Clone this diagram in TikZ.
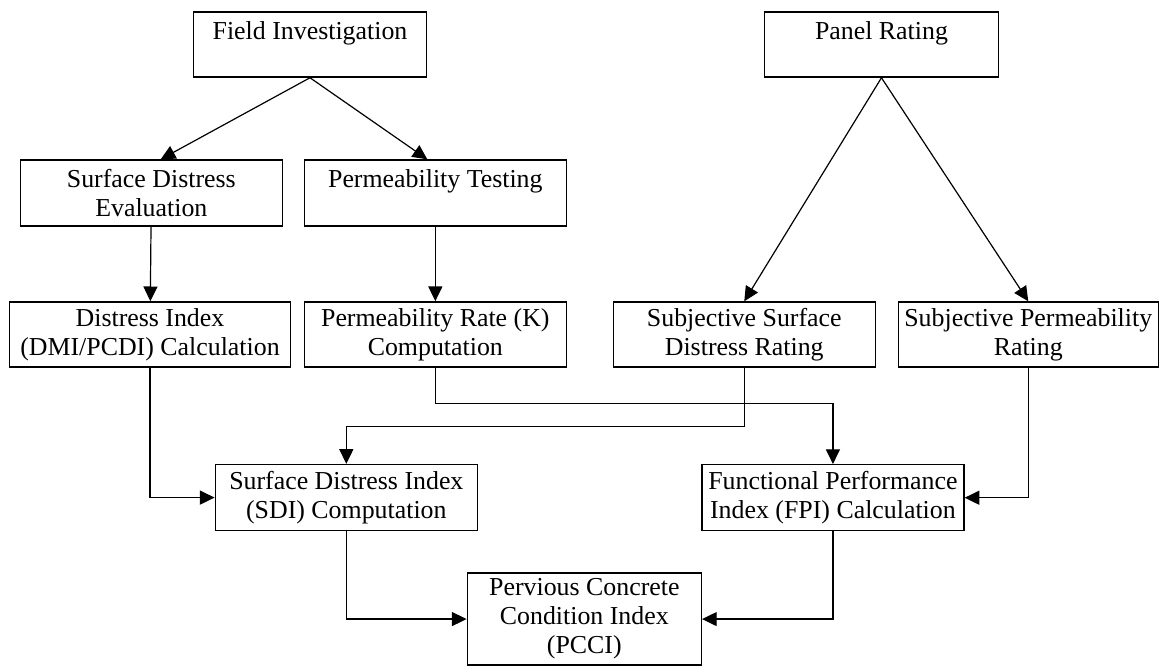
\documentclass[tikz,border=0pt]{standalone}
\usepackage{fontspec}
\setmainfont{Liberation Serif}
\usetikzlibrary{arrows.meta}
\tikzstyle{stage} = [rectangle, minimum width=196.5pt, minimum height=49.5pt, inner sep=2pt, align=center, draw=black, line width=1.1pt, font=\fontsize{19.4}{21.75}\selectfont]
\tikzstyle{arrow} = [line width=0.9pt,-{Triangle[length=11pt,width=10.5pt]}]

\begin{document}
\begin{tikzpicture}[node distance=106pt]
      \useasboundingbox (-232.5pt,33.4pt) rectangle (636.75pt,-466.1pt);
      \node (field) [stage, minimum width=175pt, minimum height=48.75pt] {Field Investigation\\ \mbox{}};
      \node (sde) [stage, below of=field, xshift=-119pt, yshift=-5.4pt] {Surface Distress\\ Evaluation};
      \draw [arrow] (field.south) -- ([xshift=7pt]sde.north);
      \node (ptest) [stage, below of=field, xshift=94pt, yshift=-5.4pt] {Permeability Testing\\ \mbox{}};
      \draw [arrow] (field.south) -- ([xshift=-6pt]ptest.north);
      \node (dic) [stage, below of=sde, xshift=-1pt, minimum width=210.75pt, minimum height=48.75pt] {Distress Index\\ (DMI/PCDI) Calculation};
      \draw [arrow] (sde) -- (dic);
      \node (prc) [stage, below of=ptest, minimum height=48.75pt] {Permeability Rate (K)\\ Computation};
      \draw [arrow] (ptest) -- (prc);
      \node (panel) [stage, right of=field, xshift=322.6pt, minimum width=175.5pt, minimum height=48.75pt] {Panel Rating\\ \mbox{}};
      \node (ssdr) [stage, below of=panel, xshift=-102.9pt, yshift=-111.5pt, minimum height=48.75pt] {Subjective Surface\\ Distress Rating};
      \draw [arrow] (panel.south) -- (ssdr.north);
      \node (spr) [stage, below of=panel, xshift=110.1pt, yshift=-111.5pt, minimum width=195pt, minimum height=48.75pt] {Subjective Permeability\\ Rating};
      \draw [arrow] (panel.south) -- (spr.north);
      \node (sdi) [stage, below of=prc, xshift=-66.75pt, yshift=-16.4pt] {Surface Distress Index\\ (SDI) Computation};
      \draw [arrow] (dic.south) |- (sdi.west);
      \draw [arrow] (ssdr.south) -- ++(0,-44.25pt) -| (sdi.north);
      \node (fpi) [stage, below of=ssdr, xshift=66.5pt, yshift=-16.4pt] {Functional Performance\\ Index (FPI) Calculation};
      \draw [arrow] (prc.south) -- ++(0,-27pt) -| (fpi.north);
      \draw [arrow] (spr.south) |- (fpi.east);
      \node (pcci) [stage, below of=sdi, xshift=178.5pt, yshift=14.9pt, minimum width=175.5pt, minimum height=69pt] {Pervious Concrete\\ Condition Index\\ (PCCI)};
      \draw [arrow] (sdi.south) |- (pcci.west);
      \draw [arrow] (fpi.south) |- (pcci.east);
    \end{tikzpicture}
\end{document}
